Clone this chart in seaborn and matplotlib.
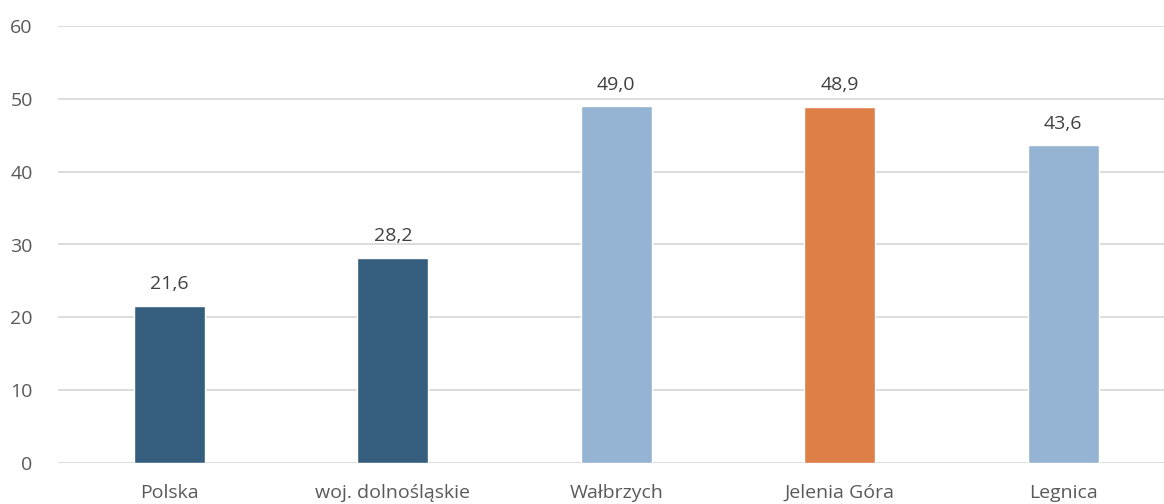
import pandas as pd
import matplotlib.pyplot as plt
import seaborn as sns

categories = ["Polska", "woj. dolnośląskie", "Wałbrzych", "Jelenia Góra", "Legnica"]
values = [21.6, 28.2, 49.0, 48.9, 43.6]
bar_colors = ["#355E7E", "#355E7E", "#95B3D2", "#DD7F47", "#95B3D2"]
y_ticks = [0, 10, 20, 30, 40, 50, 60]

df = pd.DataFrame({"kategoria": categories, "wartosc": values})

sns.set_theme(style="white")
plt.rcParams["font.family"] = ["Open Sans", "DejaVu Sans"]

fig = plt.figure(figsize=(11.64, 5.04), dpi=100)
ax = fig.add_axes([57.75 / 1164, 41 / 504, 1117 / 1164, 437 / 504])

sns.barplot(
    data=df, x="kategoria", y="wartosc", hue="kategoria",
    palette=dict(zip(categories, bar_colors)), width=0.318,
    legend=False, ax=ax, saturation=1,
)

ax.set_ylim(0, 60)
ax.set_yticks(y_ticks)
ax.yaxis.grid(True, color="#D9D9D9", linewidth=1.3)
ax.set_axisbelow(True)
for s in ax.spines.values():
    s.set_visible(False)
ax.set_xlabel("")
ax.set_ylabel("")
ax.tick_params(axis="both", length=0, labelsize=14, colors="#595959")
ax.tick_params(axis="y", pad=18)
ax.tick_params(axis="x", pad=15)

for c in ax.containers:
    ax.bar_label(c, labels=[f"{v:.1f}".replace(".", ",") for v in c.datavalues],
                 padding=9, fontsize=14, color="#404040")

fig.savefig("out.png", dpi=100)
